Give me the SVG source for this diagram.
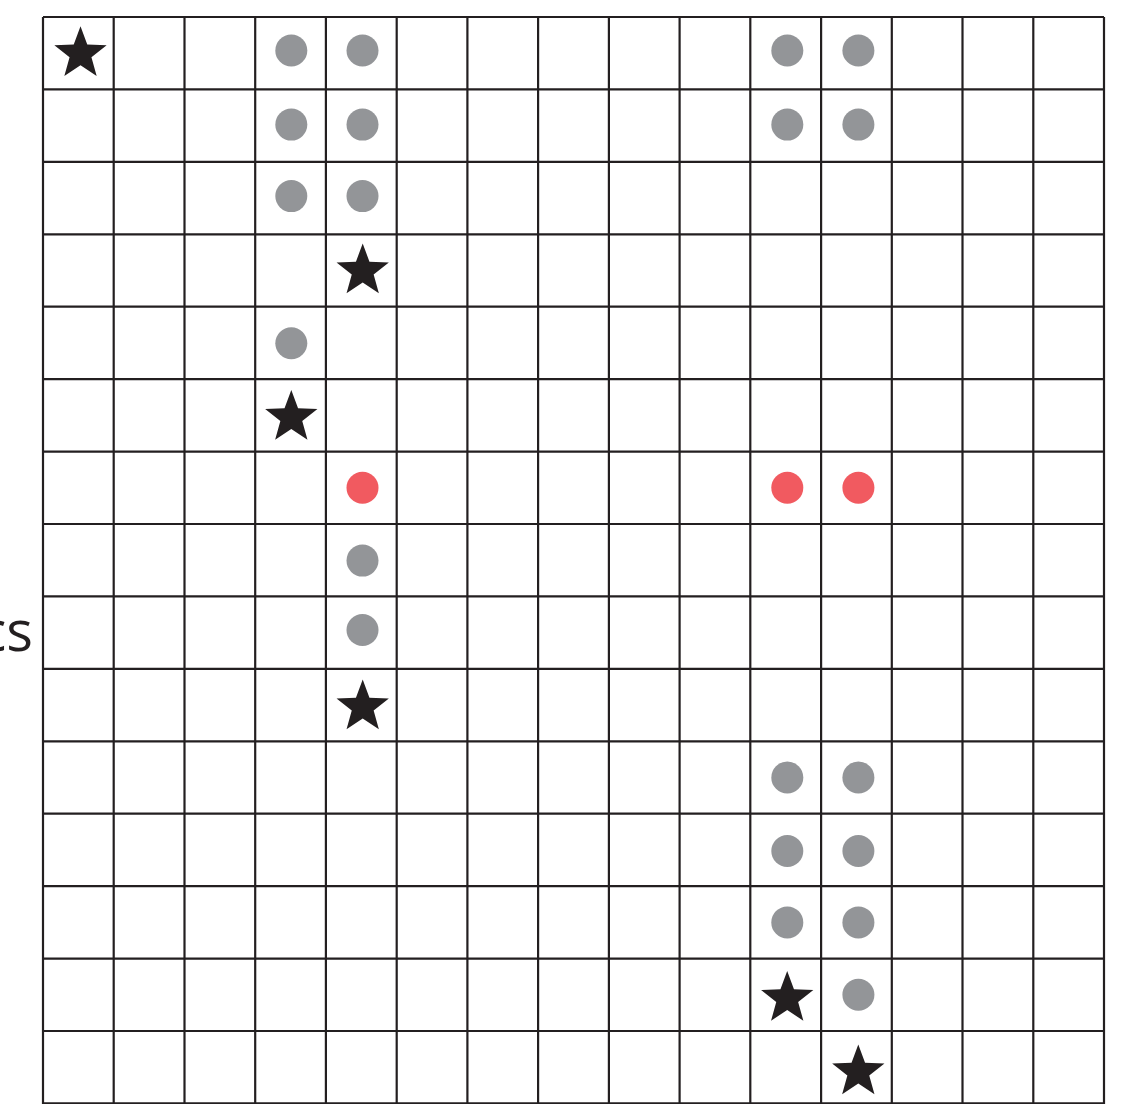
<svg xmlns="http://www.w3.org/2000/svg" xmlns:xlink="http://www.w3.org/1999/xlink" width="1147" height="1104" viewBox="0 0 1147 1104">
<style>
.g{stroke:#231f20;stroke-width:2.2;fill:none}
.gray{fill:#939598}
.red{fill:#f15a60}
.star{fill:#231f20}
.lbl{font-family:"Open Sans","Liberation Sans",sans-serif;font-size:56px;fill:#231f20}
</style>
<defs>
<path id="star" d="M0,-27.5 L6.76,-9.31 L26.15,-8.5 L10.94,3.55 L16.16,22.25 L0,11.5 L-16.16,22.25 L-10.94,3.55 L-26.15,-8.5 L-6.76,-9.31 Z"/>
</defs>
<rect width="1147" height="1104" fill="#fff"/>
<g id="grid" class="g">
<line x1="43" y1="17" x2="43" y2="1104"/>
<line x1="113.7" y1="17" x2="113.7" y2="1104"/>
<line x1="184.5" y1="17" x2="184.5" y2="1104"/>
<line x1="255.2" y1="17" x2="255.2" y2="1104"/>
<line x1="325.9" y1="17" x2="325.9" y2="1104"/>
<line x1="396.7" y1="17" x2="396.7" y2="1104"/>
<line x1="467.4" y1="17" x2="467.4" y2="1104"/>
<line x1="538.1" y1="17" x2="538.1" y2="1104"/>
<line x1="608.9" y1="17" x2="608.9" y2="1104"/>
<line x1="679.6" y1="17" x2="679.6" y2="1104"/>
<line x1="750.3" y1="17" x2="750.3" y2="1104"/>
<line x1="821.1" y1="17" x2="821.1" y2="1104"/>
<line x1="891.8" y1="17" x2="891.8" y2="1104"/>
<line x1="962.5" y1="17" x2="962.5" y2="1104"/>
<line x1="1033.3" y1="17" x2="1033.3" y2="1104"/>
<line x1="1104" y1="17" x2="1104" y2="1104"/>
<line x1="43" y1="17" x2="1104" y2="17"/>
<line x1="43" y1="89.4" x2="1104" y2="89.4"/>
<line x1="43" y1="161.9" x2="1104" y2="161.9"/>
<line x1="43" y1="234.3" x2="1104" y2="234.3"/>
<line x1="43" y1="306.7" x2="1104" y2="306.7"/>
<line x1="43" y1="379.2" x2="1104" y2="379.2"/>
<line x1="43" y1="451.6" x2="1104" y2="451.6"/>
<line x1="43" y1="524" x2="1104" y2="524"/>
<line x1="43" y1="596.4" x2="1104" y2="596.4"/>
<line x1="43" y1="668.9" x2="1104" y2="668.9"/>
<line x1="43" y1="741.3" x2="1104" y2="741.3"/>
<line x1="43" y1="813.7" x2="1104" y2="813.7"/>
<line x1="43" y1="886.2" x2="1104" y2="886.2"/>
<line x1="43" y1="958.6" x2="1104" y2="958.6"/>
<line x1="43" y1="1031" x2="1104" y2="1031"/>
<line x1="43" y1="1103.4" x2="1104" y2="1103.4"/>
</g>
<text class="lbl" x="33" y="651" text-anchor="end">cs</text>
<g id="gray-dots" class="gray">
<circle cx="291.3" cy="50.5" r="16"/>
<circle cx="362.5" cy="50.5" r="16"/>
<circle cx="787.3" cy="50.5" r="16"/>
<circle cx="858.4" cy="50.5" r="16"/>
<circle cx="291.3" cy="124.6" r="16"/>
<circle cx="362.5" cy="124.6" r="16"/>
<circle cx="787.3" cy="124.6" r="16"/>
<circle cx="858.4" cy="124.6" r="16"/>
<circle cx="291.3" cy="196.1" r="16"/>
<circle cx="362.5" cy="196.1" r="16"/>
<circle cx="291.3" cy="343.3" r="16"/>
<circle cx="362.5" cy="560.6" r="16"/>
<circle cx="362.5" cy="630" r="16"/>
<circle cx="787.3" cy="777.5" r="16"/>
<circle cx="858.4" cy="777.5" r="16"/>
<circle cx="787.3" cy="851" r="16"/>
<circle cx="858.4" cy="851" r="16"/>
<circle cx="787.3" cy="922.4" r="16"/>
<circle cx="858.4" cy="922.4" r="16"/>
<circle cx="858.4" cy="994.8" r="16"/>
</g>
<g id="red-dots" class="red">
<circle cx="362.5" cy="487.8" r="16"/>
<circle cx="787.3" cy="487.8" r="16"/>
<circle cx="858.4" cy="487.8" r="16"/>
</g>
<g id="stars" class="star">
<use xlink:href="#star" transform="translate(80.5,53.8)"/>
<use xlink:href="#star" transform="translate(362.7,271)"/>
<use xlink:href="#star" transform="translate(291.3,417.5)"/>
<use xlink:href="#star" transform="translate(362.7,707)"/>
<use xlink:href="#star" transform="translate(787.2,998.5)"/>
<use xlink:href="#star" transform="translate(858.3,1072)"/>
</g>
</svg>
